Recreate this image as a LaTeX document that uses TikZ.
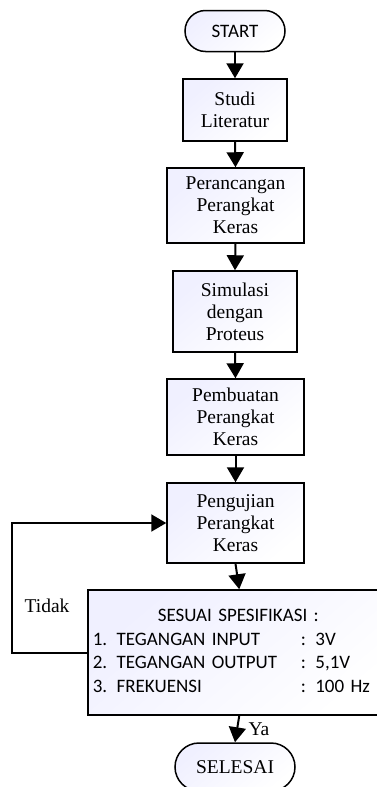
\documentclass[tikz,border=0pt]{standalone}
\usepackage{fontspec}
\setmainfont{Liberation Serif}
\newfontfamily\calibri{Carlito}
\usetikzlibrary{arrows.meta,shapes.misc}
\tikzset{
  kotak/.style={draw=black, line width=1.5pt, top color=blue!6!white, bottom color=white, shading angle=40,
    align=center, font=\fontsize{19.5}{22}\selectfont, inner sep=2pt},
  terminal/.style={kotak, rounded rectangle},
  panah/.style={line width=2pt, -{Triangle[width=17pt,length=15pt]}}
}
\begin{document}
\begin{tikzpicture}[x=1pt,y=-1pt]
        \useasboundingbox (0,0) rectangle (377,787);
        \clip (0,0) rectangle (377,787);
        \node[terminal, minimum width=104, minimum height=41, font=\calibri\fontsize{19}{22}\selectfont] (start) at (235,31) {START};
        \node[kotak, minimum width=104, minimum height=62] (studi) at (235,110) {Studi\\Literatur};
        \node[kotak, minimum width=137, minimum height=75] (rancang) at (235.5,205.5) {Perancangan\\Perangkat\\Keras};
        \node[kotak, minimum width=124, minimum height=81] (simulasi) at (235,311.5) {Simulasi\\dengan\\Proteus};
        \node[kotak, minimum width=137, minimum height=76] (buat) at (235.5,417) {Pembuatan\\Perangkat\\Keras};
        \node[kotak, minimum width=137, minimum height=80] (uji) at (235.5,523) {Pengujian\\Perangkat\\Keras};
        \node[kotak, anchor=west, minimum width=303, minimum height=125, text width=293, align=left,
          font=\calibri\fontsize{19}{23.5}\selectfont] (sesuai) at (87,652.5) {%
          \begin{tabular}{@{}p{196pt}l@{}}
            \multicolumn{2}{@{\hspace{14pt}}c@{}}{SESUAI SPESIFIKASI :}\\
            1. TEGANGAN INPUT & : 3V\\
            2. TEGANGAN OUTPUT & : 5,1V\\
            3. FREKUENSI & : 100 Hz
          \end{tabular}};
        \node[terminal, minimum width=124, minimum height=48] (selesai) at (235,767) {SELESAI};

        \node[font=\fontsize{19.5}{22}\selectfont] (tidak) at (47,606) {Tidak};
        \node[font=\fontsize{19.5}{22}\selectfont] (ya) at (259,729) {Ya};

        \foreach \a/\b in {start/studi, studi/rancang, rancang/simulasi, simulasi/buat, buat/uji, uji/sesuai, sesuai/selesai} {
          \draw[panah] (\a.south) -- (\b.north);
        }
        \draw[panah] (sesuai.west) -- ++(-75,0) |- (uji.west);
      \end{tikzpicture}
\end{document}
